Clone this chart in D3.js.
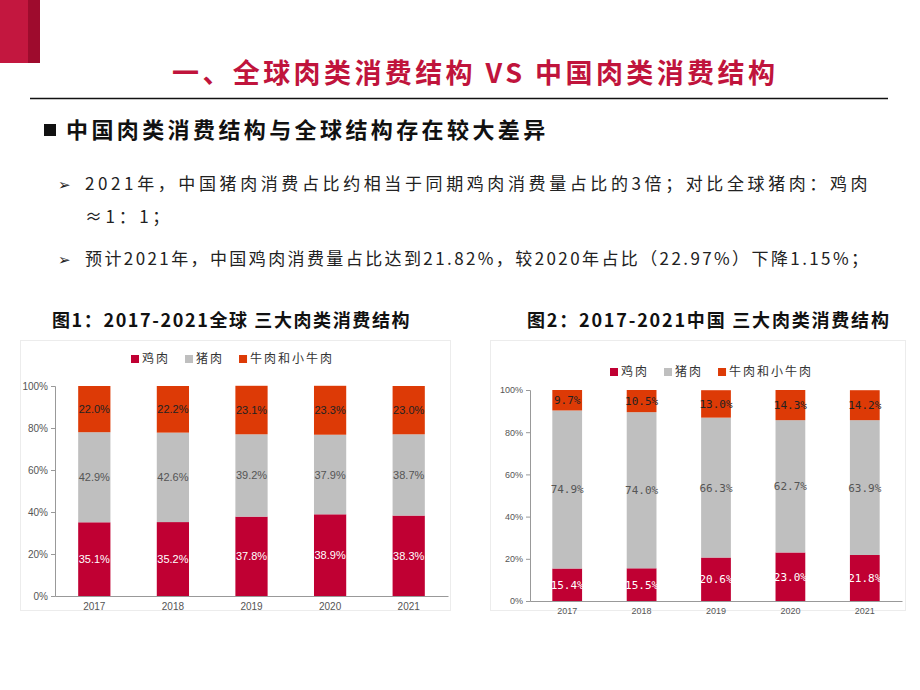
<!DOCTYPE html><html><head><meta charset="utf-8"><script src="https://cdn.jsdelivr.net/npm/d3@7"></script>
<style>body{margin:0;background:#fff}svg{display:block}</style></head><body><svg id="s" width="920" height="690"></svg>
<script>
const years=["2017","2018","2019","2020","2021"];
const seriesNames=["鸡肉","猪肉","牛肉和小牛肉"];
const globalChicken=[35.1,35.2,37.8,38.9,38.3];
const globalPork=[42.9,42.6,39.2,37.9,38.7];
const globalBeef=[22.0,22.2,23.1,23.3,23.0];
const chinaChicken=[15.4,15.5,20.6,23.0,21.8];
const chinaPork=[74.9,74.0,66.3,62.7,63.9];
const chinaBeef=[9.7,10.5,13.0,14.3,14.2];
const yTicks=[0,20,40,60,80,100];
const colors=["#C00033","#BFBFBF","#DD3A06"];
const cjk="'Noto Sans CJK SC',sans-serif";
const svg=d3.select("#s");
svg.append("rect").attr("x",0).attr("y",0).attr("width",28).attr("height",63).attr("fill","#C3173F");
svg.append("rect").attr("x",28).attr("y",0).attr("width",12).attr("height",63).attr("fill","#9E0B2D");
svg.append("text").attr("x",172).attr("y",83).attr("fill","#C0143C").attr("font-family",cjk).attr("font-weight","bold").attr("font-size",27).attr("letter-spacing",3.4).text("一、全球肉类消费结构 VS 中国肉类消费结构");
svg.append("line").attr("x1",30).attr("x2",888).attr("y1",98.5).attr("y2",98.5).attr("stroke","#111").attr("stroke-width",1.5);
svg.append("rect").attr("x",44).attr("y",124).attr("width",12).attr("height",12).attr("fill","#111");
svg.append("text").attr("x",66).attr("y",138).attr("font-family",cjk).attr("font-weight","bold").attr("font-size",22).attr("letter-spacing",3.4).attr("fill","#111").text("中国肉类消费结构与全球结构存在较大差异");
const para=[["➢",190,"2021年，中国猪肉消费占比约相当于同期鸡肉消费量占比的3倍；对比全球猪肉：鸡肉",3.6],["",223,"≈1：1；",3.6],["➢",265,"预计2021年，中国鸡肉消费量占比达到21.82%，较2020年占比（22.97%）下降1.15%；",2.4]];
para.forEach(p=>{if(p[0])svg.append("text").attr("x",58).attr("y",p[1]).attr("font-family","DejaVu Sans").attr("font-size",15).attr("fill","#222").text(p[0]);
 svg.append("text").attr("x",85).attr("y",p[1]).attr("font-family",cjk).attr("font-size",17).attr("letter-spacing",p[3]).attr("fill","#222").text(p[2]);});
svg.append("text").attr("x",52).attr("y",327).attr("font-family",cjk).attr("font-weight","bold").attr("font-size",18).attr("letter-spacing",1.6).attr("fill","#111").text("图1：2017-2021全球 三大肉类消费结构");
svg.append("text").attr("x",527).attr("y",327).attr("font-family",cjk).attr("font-weight","bold").attr("font-size",18).attr("letter-spacing",1.8).attr("fill","#111").text("图2：2017-2021中国 三大肉类消费结构");
svg.append("rect").attr("x",20.5).attr("y",340.5).attr("width",430).attr("height",270).attr("fill","none").attr("stroke","#ececec");
svg.append("rect").attr("x",490.5).attr("y",340.5).attr("width",415).attr("height",270).attr("fill","none").attr("stroke","#ececec");

function chart(o){
  const data=years.map((y,i)=>({year:y,v:[o.c[i],o.p[i],o.b[i]]}));
  const x=d3.scaleBand().domain(years).range([o.x0,o.x1]).paddingInner(o.pad).paddingOuter(o.pad/2);
  const y=d3.scaleLinear().domain([0,100]).range([o.y0,o.y1]);
  const g=svg.append("g");
  const ya=g.append("g").attr("transform",`translate(${o.x0},0)`).call(d3.axisLeft(y).tickValues(yTicks).tickFormat(d=>d+"%").tickSize(4));
  ya.selectAll("text").attr("font-family","Liberation Sans").attr("font-size",o.fs).attr("fill","#555");
  ya.selectAll("path,line").attr("stroke","#999");
  const xa=g.append("g").attr("transform",`translate(0,${o.y0})`).call(d3.axisBottom(x).tickSize(0).tickPadding(7));
  xa.selectAll("text").attr("font-family","Liberation Sans").attr("font-size",o.fs).attr("fill","#555");
  xa.select("path").attr("stroke","#999");
  data.forEach(d=>{let acc=0;d.v.forEach((v,k)=>{
    g.append("rect").attr("x",x(d.year)).attr("width",x.bandwidth()).attr("y",y(acc+v)).attr("height",y(acc)-y(acc+v)).attr("fill",colors[k]);
    g.append("text").attr("x",x(d.year)+x.bandwidth()/2).attr("y",(y(acc)+y(acc+v))/2+4).attr("text-anchor","middle")
     .attr("font-family",o.lf).attr("font-size",o.lfs).attr("fill",k==0?"#fff":k==1?"#555":"#222").text(v.toFixed(1)+"%");
    acc+=v;});});
  let lx=o.lx;
  seriesNames.forEach((n,k)=>{g.append("rect").attr("x",lx).attr("y",o.ly-8).attr("width",8).attr("height",8).attr("fill",colors[k]);
    const t=g.append("text").attr("x",lx+11).attr("y",o.ly).attr("font-family",cjk).attr("font-size",12).attr("fill","#333").attr("letter-spacing",2).text(n);
    lx+=t.node().getComputedTextLength()+26;});
}
chart({c:globalChicken,p:globalPork,b:globalBeef,x0:55,x1:448,y0:596,y1:386,pad:0.59,fs:10,lf:"Liberation Sans",lfs:11,lx:131,ly:363});
chart({c:chinaChicken,p:chinaPork,b:chinaBeef,x0:530,x1:902,y0:601,y1:390,pad:0.6,fs:9,lf:"DejaVu Sans Mono",lfs:11,lx:610,ly:376});
</script></body></html>
